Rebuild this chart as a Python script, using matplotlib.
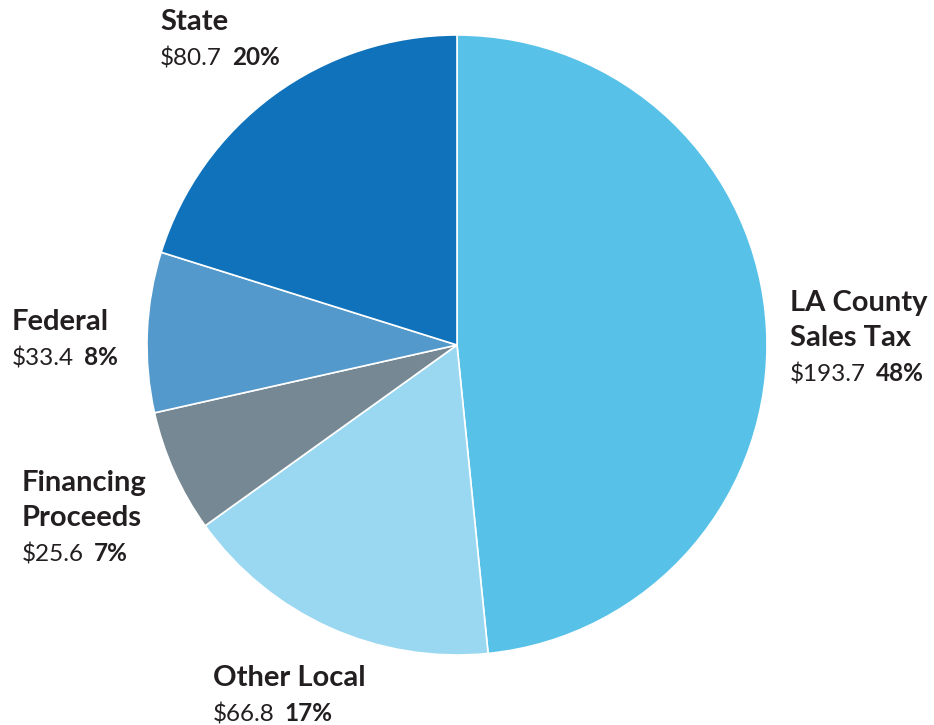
import matplotlib.pyplot as plt

labels = ["LA County\nSales Tax", "Other Local", "Financing\nProceeds", "Federal", "State"]
values = [193.7, 66.8, 25.6, 33.4, 80.7]
pcts = ["48%", "17%", "7%", "8%", "20%"]
colors = ["#57C1E8", "#9AD8F2", "#758893", "#5499CB", "#0F72BA"]
# label anchor (left x, baseline of first line) in pixels from top-left
label_pos = [(790, 311), (213, 686), (22, 491), (12, 330), (160, 30)]

W, H = 934, 725
fig = plt.figure(figsize=(W / 100, H / 100), dpi=100)
ax = fig.add_axes([0, 0, 1, 1])
ax.set_xlim(0, W)
ax.set_ylim(0, H)
ax.set_aspect("equal")
ax.axis("off")

ax.pie(values, colors=colors, startangle=90, counterclock=False,
       center=(457, H - 345), radius=310,
       wedgeprops=dict(edgecolor="white", linewidth=1.2))
ax.set_xlim(0, W)
ax.set_ylim(0, H)

txt = "#231F20"
font = "Lato"
line_h = 35
fig.canvas.draw()
renderer = fig.canvas.get_renderer()
for lab, v, p, (x, y) in zip(labels, values, pcts, label_pos):
    lines = lab.split("\n")
    for i, ln in enumerate(lines):
        ax.text(x, H - (y + i * line_h), ln, fontsize=21, fontweight="bold",
                family=font, color=txt, va="baseline", ha="left")
    vy = H - (y + len(lines) * line_h)
    t = ax.text(x, vy, f"${v}", fontsize=17.5, family=font, color=txt,
                va="baseline", ha="left")
    bb = t.get_window_extent(renderer=renderer)
    ax.text(bb.x1 + 10, vy, p, fontsize=17.5, fontweight="bold", family=font,
            color=txt, va="baseline", ha="left")

fig.savefig("out.png", dpi=100)
